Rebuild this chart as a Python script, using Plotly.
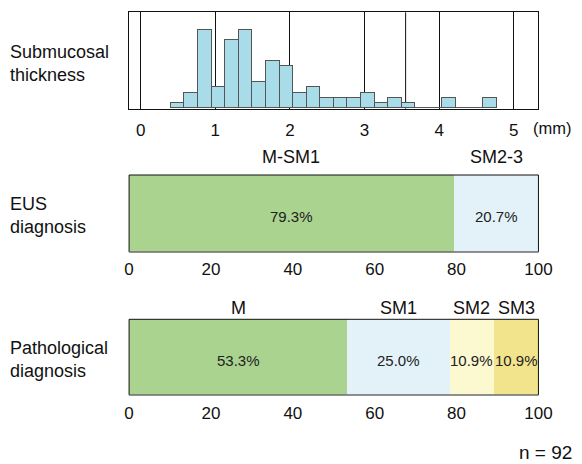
import plotly.graph_objects as go

# ---------------- data ----------------
hist_bin_start = 0.405
hist_bin_width = 0.182
hist_counts = [1, 3, 15, 4, 13, 15, 5, 9, 8, 3, 4, 2, 2, 2, 3, 1, 2, 1, 0, 0, 2, 0, 0, 2]
hist_ticks = [0, 1, 2, 3, 4, 5]
hist_extra_line = 3.55

eus_categories = ["M-SM1", "SM2-3"]
eus_values = [79.3, 20.7]
eus_colors = ["#a9d38f", "#e3f2f9"]

path_categories = ["M", "SM1", "SM2", "SM3"]
path_values = [53.3, 25.0, 10.9, 10.9]
path_colors = ["#a9d38f", "#e3f2f9", "#fcf8cf", "#f2e48d"]

pct_ticks = [0, 20, 40, 60, 80, 100]
n_total = 92

# ---------------- layout helpers ----------------
W, H = 590, 456
# measured mapping of paper fraction -> window pixel in this viewer
PX_A, PX_C = 11.3, W - 16.0
PY_OFF = 8
FONT = "Liberation Sans, Arial, sans-serif"


def px(xs):
    return (xs - PX_A) / PX_C


def py(ys):
    return 1 - (ys - PY_OFF) / H


X0, X1 = px(128), px(539.5)

fig = go.Figure()

# histogram
left_edges = [hist_bin_start + i * hist_bin_width for i in range(len(hist_counts))]
fig.add_trace(go.Bar(
    x=left_edges, y=hist_counts, width=hist_bin_width, offset=0,
    marker=dict(color="#a8dce9", line=dict(color="#555555", width=1)),
    xaxis="x", yaxis="y", showlegend=False, hoverinfo="skip",
))

ann = []
pct_font = dict(family=FONT, size=15, color="#222222")
label_font = dict(family=FONT, size=18, color="#111111")


def add_stack(values, colors, cats, xa, ya, cat_y):
    cum = 0
    for v, c, cat in zip(values, colors, cats):
        fig.add_trace(go.Bar(
            x=[v], y=[0], orientation="h", width=1,
            marker=dict(color=c, line=dict(width=0)),
            xaxis=xa, yaxis=ya, showlegend=False, hoverinfo="skip",
        ))
        ann.append(dict(text=f"{v:.1f}%", x=cum + v / 2, y=0, xref=xa, yref=ya,
                        xanchor="center", yanchor="middle", yshift=-3,
                        showarrow=False, font=pct_font))
        ann.append(dict(text=cat, x=cum + v / 2, y=py(cat_y), xref=xa, yref="paper",
                        xanchor="center", yanchor="middle", showarrow=False,
                        font=label_font))
        cum += v


add_stack(eus_values, eus_colors, eus_categories, "x2", "y2", 157)
add_stack(path_values, path_colors, path_categories, "x3", "y3", 308)

hist_dom = [py(108.7), py(12.3)]
eus_dom = [py(252), py(175)]
path_dom = [py(395), py(319.3)]

axis_font = dict(family=FONT, size=17, color="#111111")

fig.update_layout(
    width=W, height=H, margin=dict(l=0, r=0, t=0, b=0),
    paper_bgcolor="white", plot_bgcolor="white",
    barmode="stack", bargap=0,
    font=dict(family=FONT, color="#111111"),
    xaxis=dict(domain=[X0, X1], range=[-0.156, 5.33], tickvals=hist_ticks,
               showgrid=True, gridcolor="#111111", gridwidth=1, zeroline=False,
               showline=True, linecolor="#111111", linewidth=1, mirror=True,
               ticks="", tickfont=axis_font, ticklabelstandoff=6, anchor="y"),
    yaxis=dict(domain=hist_dom, range=[0, 18.4], showticklabels=False,
               showgrid=False, zeroline=False,
               showline=True, linecolor="#111111", linewidth=1, mirror=True,
               ticks="", anchor="x"),
    xaxis2=dict(domain=[X0, X1], range=[0, 100], tickvals=pct_ticks,
                showgrid=False, zeroline=False, showline=False,
                ticks="", tickfont=axis_font, ticklabelstandoff=5, anchor="y2"),
    yaxis2=dict(domain=eus_dom, range=[-0.5, 0.5], showticklabels=False,
                showgrid=False, zeroline=False, showline=False, anchor="x2"),
    xaxis3=dict(domain=[X0, X1], range=[0, 100], tickvals=pct_ticks,
                showgrid=False, zeroline=False, showline=False,
                ticks="", tickfont=axis_font, ticklabelstandoff=6, anchor="y3"),
    yaxis3=dict(domain=path_dom, range=[-0.5, 0.5], showticklabels=False,
                showgrid=False, zeroline=False, showline=False, anchor="x3"),
)

shapes = [
    dict(type="line", xref="x", yref="y domain", x0=hist_extra_line, x1=hist_extra_line,
         y0=0, y1=1, line=dict(color="#111111", width=1), layer="below"),
]
for xa, ya in (("x2", "y2"), ("x3", "y3")):
    shapes.append(dict(type="rect", xref=f"{xa} domain", yref=f"{ya} domain",
                       x0=0, x1=1, y0=0, y1=1, line=dict(color="#111111", width=1),
                       fillcolor="rgba(0,0,0,0)", layer="above"))
    shapes.append(dict(type="line", xref=f"{xa} domain", yref=f"{ya} domain",
                       x0=0, x1=1, y0=0, y1=0, line=dict(color="#9a9a9a", width=1.2),
                       layer="above"))
fig.update_layout(shapes=shapes)

# left labels
for txt, yc in (("Submucosal<br>thickness", 64), ("EUS<br>diagnosis", 215),
                ("Pathological<br>diagnosis", 359)):
    ann.append(dict(text=txt, x=px(6), y=py(yc), xref="paper", yref="paper",
                    xanchor="left", yanchor="middle", align="left",
                    showarrow=False, font=label_font))

ann.append(dict(text="(mm)", x=px(532), y=py(128), xref="paper", yref="paper",
                xanchor="left", yanchor="middle", showarrow=False,
                font=dict(family=FONT, size=16.5, color="#111111")))
ann.append(dict(text=f"n = {n_total}", x=px(575), y=py(452), xref="paper", yref="paper",
                xanchor="right", yanchor="middle", showarrow=False,
                font=dict(family=FONT, size=19, color="#111111")))
fig.update_layout(annotations=ann)

fig.write_html("out.html")
